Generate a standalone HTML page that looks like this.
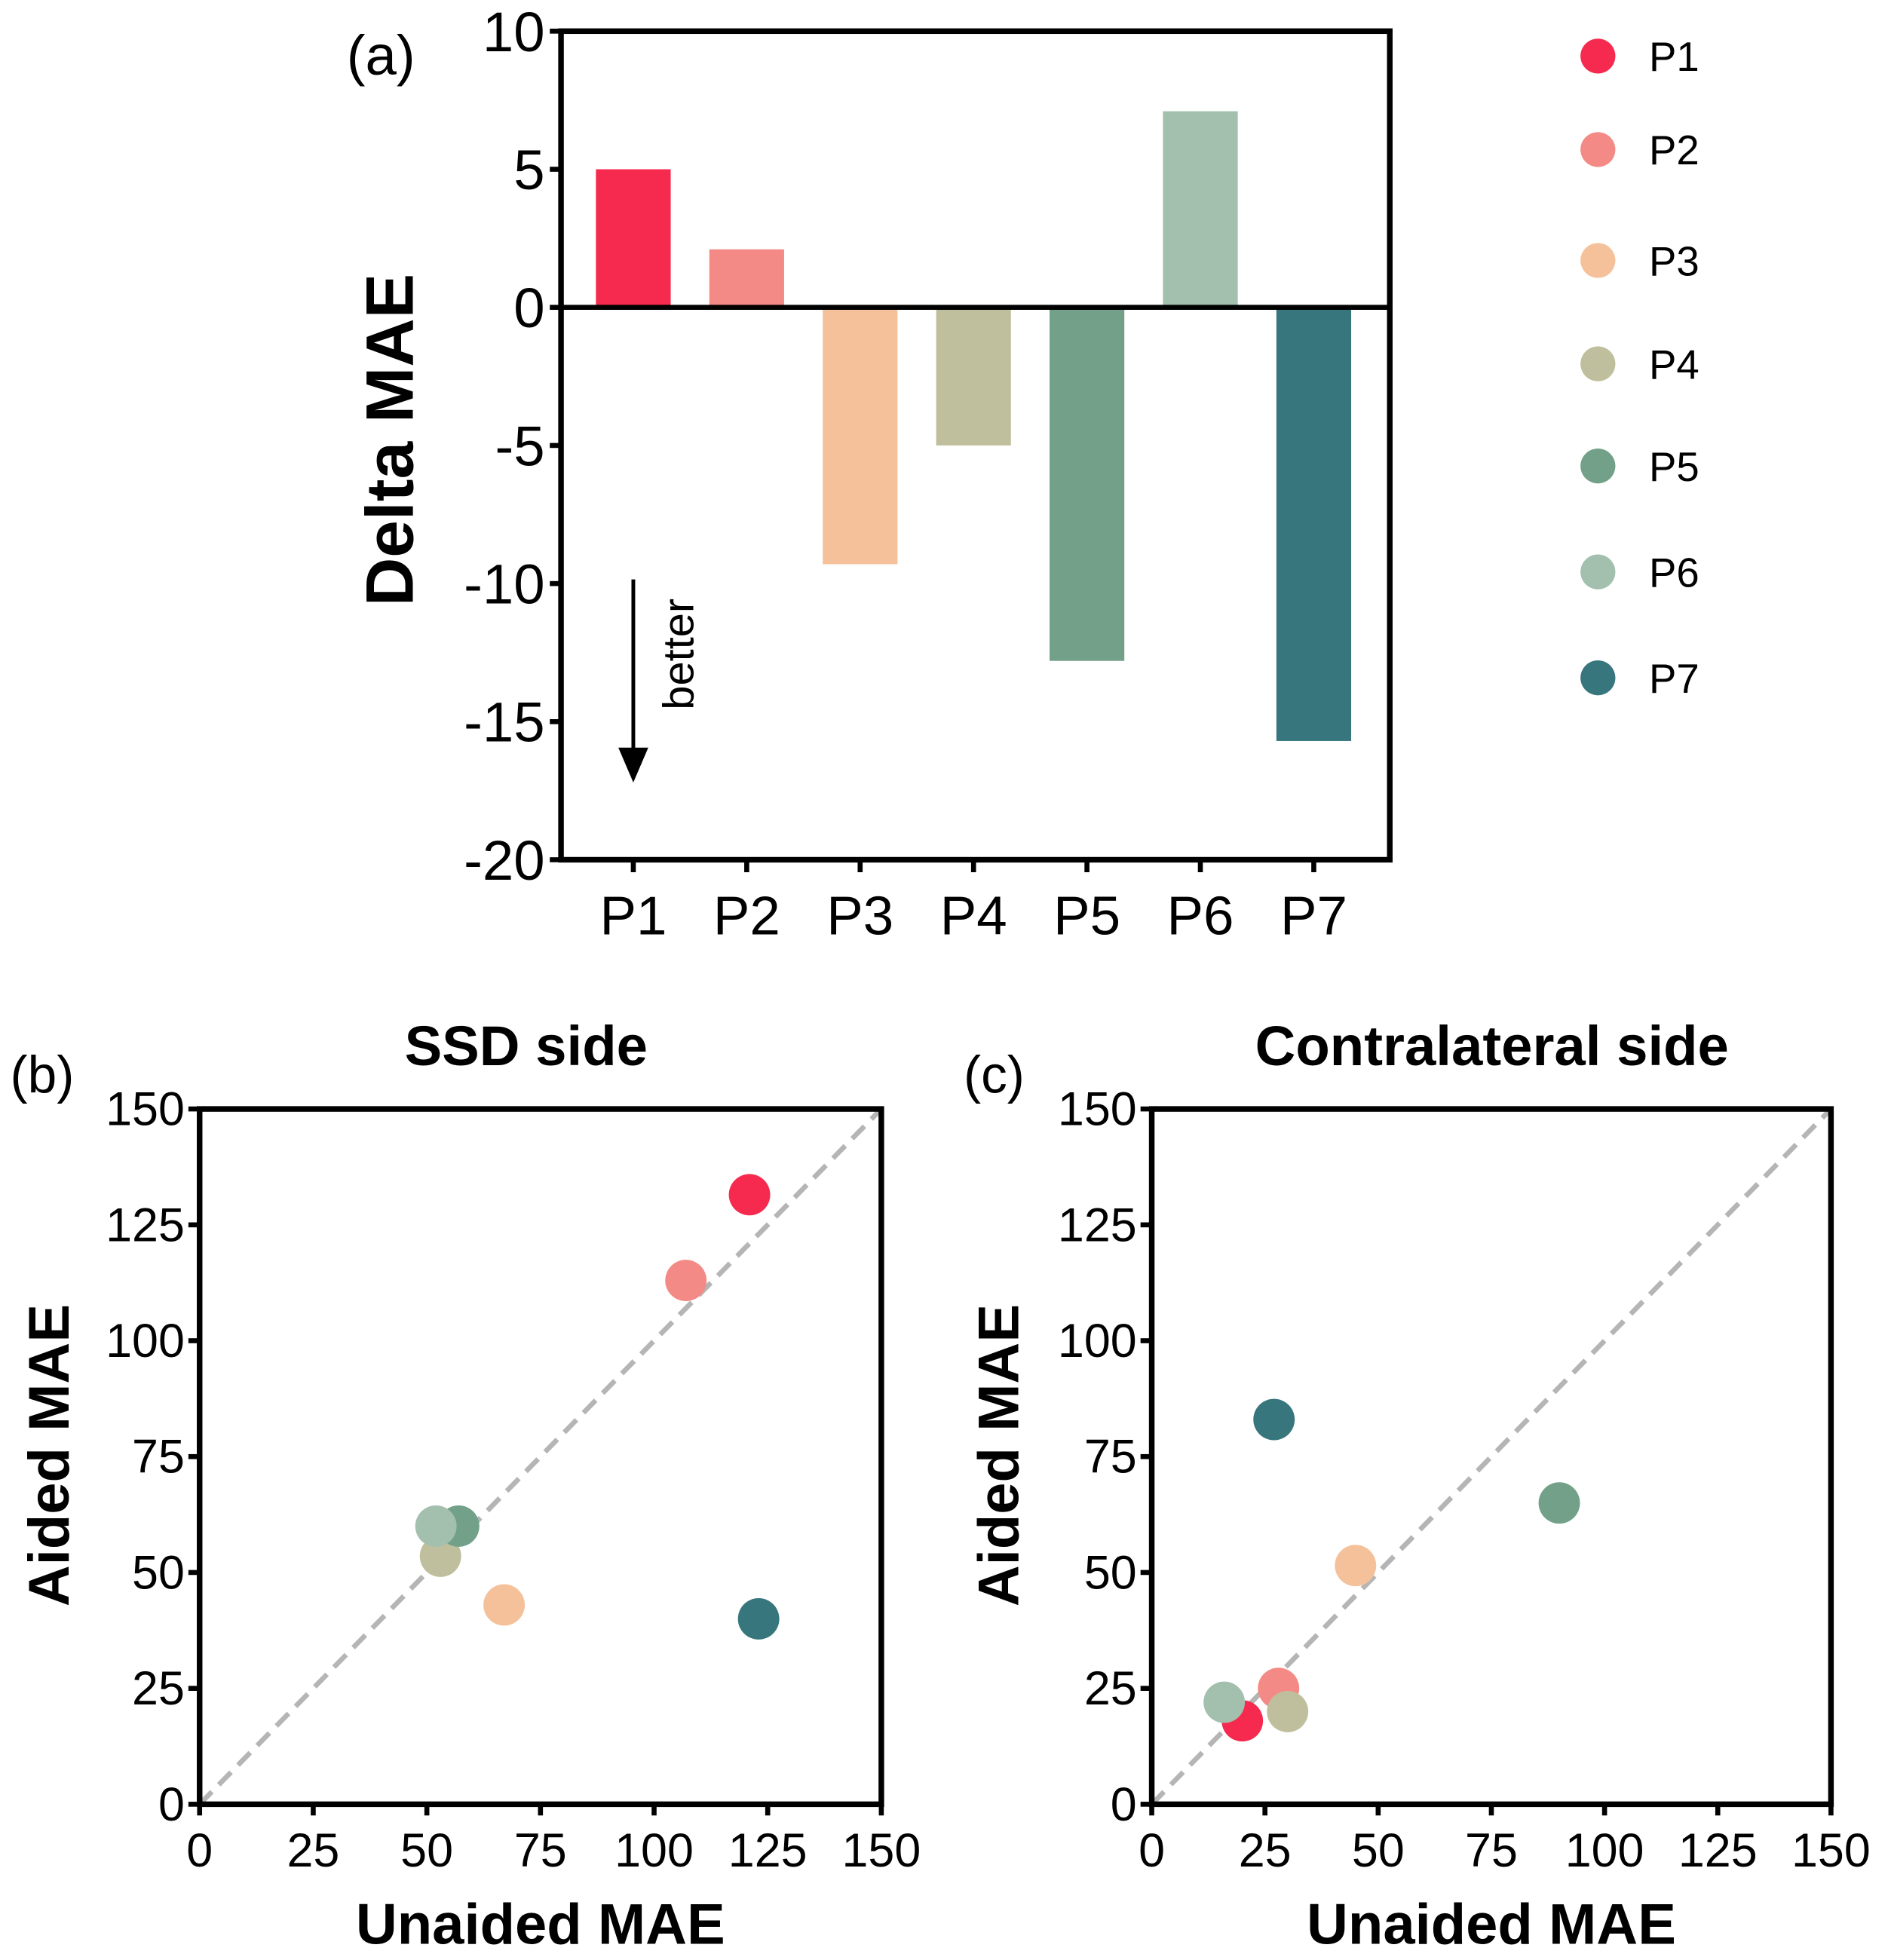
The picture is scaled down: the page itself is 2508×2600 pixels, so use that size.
<!DOCTYPE html>
<html><head><meta charset="utf-8"><style>
html,body{margin:0;padding:0;background:#fff}
svg{display:block}
text{font-family:"Liberation Sans",sans-serif;fill:#000}
</style></head><body>
<svg id="fig" width="2508" height="2600" viewBox="0 0 1517 1573" xmlns="http://www.w3.org/2000/svg">
<g id="pa"></g>
<g id="pb"></g>
<g id="pc"></g>
<g id="leg"></g>
</svg>
<script>
const categories = ["P1","P2","P3","P4","P5","P6","P7"];
const colors = ["#f52a4e","#f48a85","#f5c19a","#bfbf9d","#72a088","#a3bfae","#37767d"];
const deltaMAE = [5.0, 2.1, -9.3, -5.0, -12.8, 7.1, -15.7];
const deltaTicks = [10, 5, 0, -5, -10, -15, -20];
const ssdUnaided = [121, 107, 67, 53, 57, 52, 123];
const ssdAided = [131.5, 113, 43, 53.5, 60, 60, 40];
const conUnaided = [20, 28, 45, 30, 90, 16, 27];
const conAided = [18, 25, 51.5, 20, 65, 22, 83];
const scatterTicks = [0, 25, 50, 75, 100, 125, 150];

const NS = "http://www.w3.org/2000/svg";
function mk(parent, tag, attrs, txt){
  const e = document.createElementNS(NS, tag);
  for (const k in attrs) e.setAttribute(k, attrs[k]);
  if (txt !== undefined) e.textContent = txt;
  parent.appendChild(e); return e;
}

// Panel A
(function(){
  const g = document.getElementById('pa');
  const L=450,R=1115,T=25,B=690, vmax=10, vmin=-20;
  const y = v => T + (vmax - v) / (vmax - vmin) * (B - T);
  const x = i => 508 + i * 91;
  const bw = 60;
  deltaMAE.forEach((v,i)=>{
    const r = mk(g,'rect',{x:x(i)-bw/2, y:Math.min(y(v),y(0)), width:bw, height:Math.abs(y(v)-y(0)), fill:colors[i]});
    
    
  });
  const fr = mk(g,'rect',{x:L,y:T,width:R-L,height:B-T,fill:'none',stroke:'#000','stroke-width':4.5});
   
  const zl = mk(g,'line',{x1:L,x2:R,y1:y(0),y2:y(0),stroke:'#000','stroke-width':4});
   
  deltaTicks.forEach(t=>{
    mk(g,'line',{x1:L-9,x2:L,y1:y(t),y2:y(t),stroke:'#000','stroke-width':4});
    const tx = mk(g,'text',{x:L-13,y:y(t)+16,'text-anchor':'end','font-size':45},String(t));
     
  });
  categories.forEach((c,i)=>{
    mk(g,'line',{x1:x(i),x2:x(i),y1:B,y2:B+10,stroke:'#000','stroke-width':4});
    const tx = mk(g,'text',{x:x(i),y:B+60,'text-anchor':'middle','font-size':44},c);
     
  });
  const yt = mk(g,'text',{x:0,y:0,transform:'translate(331,353) rotate(-90)','text-anchor':'middle','font-size':54,'font-weight':'bold'},'Delta MAE');
   
  const pl = mk(g,'text',{x:278,y:60,'font-size':45},'(a)');
   
  const ar = mk(g,'line',{x1:508,x2:508,y1:465,y2:605,stroke:'#000','stroke-width':3});
   
  mk(g,'polygon',{points:'496,600 520,600 508,628',fill:'#000'});
  const bt = mk(g,'text',{x:0,y:0,transform:'translate(556,525) rotate(-90)','text-anchor':'middle','font-size':35},'better');
   
})();

function scatter(gid, L, R, T, B, xs, ys, title, titleX, label, labelX, ytX){
  const g = document.getElementById(gid);
  const x = v => L + v/150*(R-L);
  const y = v => B - v/150*(B-T);
  const dl = mk(g,'line',{x1:x(0),y1:y(0),x2:x(150),y2:y(150),stroke:'#b5b5b5','stroke-width':4,'stroke-dasharray':'14 8'});
   
  xs.forEach((v,i)=>{
    const c = mk(g,'circle',{cx:x(v),cy:y(ys[i]),r:16.6,fill:colors[i]});
    
    
  });
  const fr = mk(g,'rect',{x:L,y:T,width:R-L,height:B-T,fill:'none',stroke:'#000','stroke-width':4.5});
   
  scatterTicks.forEach(t=>{
    mk(g,'line',{x1:L-9,x2:L,y1:y(t),y2:y(t),stroke:'#000','stroke-width':4});
    mk(g,'line',{x1:x(t),x2:x(t),y1:B,y2:B+9,stroke:'#000','stroke-width':4});
    const a = mk(g,'text',{x:L-12,y:y(t)+13,'text-anchor':'end','font-size':38},String(t));
     
    const b = mk(g,'text',{x:x(t),y:B+50,'text-anchor':'middle','font-size':38},String(t));
     
  });
  const tt = mk(g,'text',{x:titleX,y:855,'text-anchor':'middle','font-size':45,'font-weight':'bold'},title);
   
  const pl = mk(g,'text',{x:labelX,y:877,'font-size':42},label);
   
  const xt = mk(g,'text',{x:(L+R)/2,y:1560,'text-anchor':'middle','font-size':46,'font-weight':'bold'},'Unaided MAE');
   
  const yt = mk(g,'text',{x:0,y:0,transform:'translate('+ytX+',1168) rotate(-90)','text-anchor':'middle','font-size':46,'font-weight':'bold'},'Aided MAE');
   
}
scatter('pb',160,707,890,1448,ssdUnaided,ssdAided,'SSD side',422,'(b)',8,55);
scatter('pc',924,1469,890,1448,conUnaided,conAided,'Contralateral side',1197,'(c)',773,817);

// Legend
(function(){
  const g = document.getElementById('leg');
  const ly = [45,120,209,292,374,459,544];
  categories.forEach((c,i)=>{
    const ci = mk(g,'circle',{cx:1282,cy:ly[i],r:14,fill:colors[i]});
    
    
    const t = mk(g,'text',{x:1323,y:ly[i]+12,'font-size':33},c);
    
    
  });
})();
</script>
</body></html>
